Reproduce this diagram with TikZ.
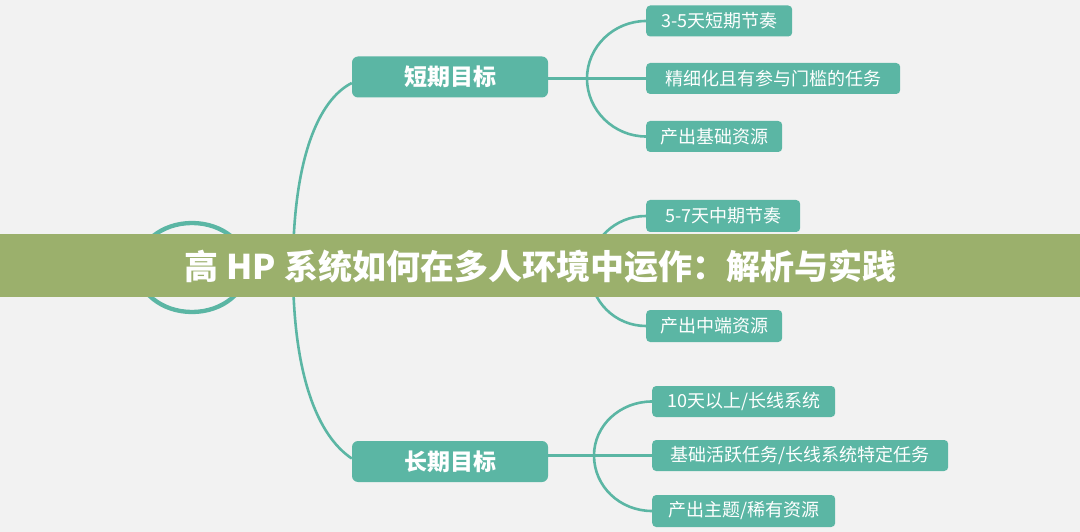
\documentclass[tikz,border=0pt]{standalone}
\usepackage{fontspec}
\newfontfamily\cjk{Noto Sans CJK SC}
\usetikzlibrary{shapes.geometric,backgrounds}
\definecolor{bgc}{RGB}{242,242,242}
\definecolor{teal1}{RGB}{91,182,164}
\definecolor{bannerc}{RGB}{155,176,108}
\begin{document}
\begin{tikzpicture}[x=1pt,y=-1pt,
  leaf/.style={fill=teal1, rounded corners=4pt, text=white,
    font=\cjk\fontsize{18}{18}\selectfont, anchor=west, inner sep=0pt,
    minimum height=31pt},
  branch/.style={fill=teal1, rounded corners=6pt, text=white,
    font=\cjk\bfseries\fontsize{23}{23}\selectfont, inner sep=0pt,
    minimum width=196pt, minimum height=41pt},
  link/.style={draw=teal1, line width=2.6pt}]
\useasboundingbox (0,0) rectangle (1080,532);
\begin{scope}[on background layer]
  \fill[bgc] (0,0) rectangle (1080,532);
\end{scope}

% centre
\node[draw=teal1, line width=4.3pt, ellipse, minimum width=110pt,
  minimum height=89pt, inner sep=0pt] (c) at (192,267.5) {};

% branches
\node[branch] (s) at (450,77) {短期目标};
\node[branch] (l) at (450,461.5) {长期目标};

% leaves
\node[leaf, minimum width=146pt] (l1) at (646,21) {3-5天短期节奏};
\node[leaf, minimum width=254pt] (l2) at (646,78.5) {精细化且有参与门槛的任务};
\node[leaf, minimum width=136pt] (l3) at (646,136.5) {产出基础资源};
\node[leaf, minimum width=154pt, minimum height=32pt] (m1) at (646,216) {5-7天中期节奏};
\node[leaf, minimum width=136pt, minimum height=32pt] (m3) at (646,326) {产出中端资源};
\node[leaf, minimum width=183pt] (g1) at (652,401.5) {10天以上/长线系统};
\node[leaf, minimum width=296pt] (g2) at (652,455.5) {基础活跃任务/长线系统特定任务};
\node[leaf, minimum width=183pt, minimum height=32pt] (g3) at (652,511) {产出主题/稀有资源};

% hubs
\coordinate (hub) at (293,268);
\coordinate (hs) at (587,78.5);
\coordinate (hm) at (590,270);
\coordinate (hl) at (594,455.5);

\begin{scope}[on background layer]
  \draw[link] (c.east) -- (hub);
  \draw[link] (hub) .. controls (293,160) and (318,100) .. ([yshift=-6pt]s.west);
  \draw[link] (hub) .. controls (293,376) and (318,436) .. ([yshift=3pt]l.west);
  % short
  \draw[link] (s.east |- l2.west) -- (l2.west);
  \draw[link] (l1.west) .. controls +(-32,0) and +(0,-32) .. (hs)
              .. controls +(0,32) and +(-32,0) .. (l3.west);
  % middle
  \draw[link] (m1.west) .. controls +(-31,0) and +(0,-30) .. (hm)
              .. controls +(0,31) and +(-31,0) .. (m3.west);
  % long
  \draw[link] (l.east |- g2.west) -- (g2.west);
  \draw[link] (g1.west) .. controls +(-32,0) and +(0,-30) .. (hl)
              .. controls +(0,31) and +(-32,0) .. (g3.west);
\end{scope}

% banner
\node[fill=bannerc, anchor=north west, inner sep=0pt, minimum width=1080pt,
  minimum height=63pt] (banner) at (0,234) {};
\node[text=white, font=\cjk\bfseries\fontsize{34}{34}\selectfont, inner sep=0pt]
  (title) at (540.5,267) {高 HP 系统如何在多人环境中运作：解析与实践};
\end{tikzpicture}
\end{document}
